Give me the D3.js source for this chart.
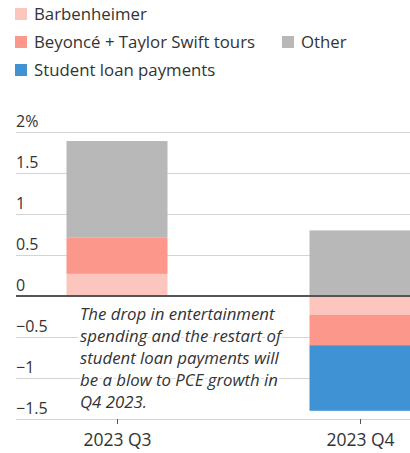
<!DOCTYPE html>
<html lang="en">
<head>
<meta charset="UTF-8">
<title>PCE contributions</title>
<script src="https://cdn.jsdelivr.net/npm/d3@7"></script>
<style>
    body { margin: 0; background: #fff; }
    text { font-family: "Open Sans", Lato, sans-serif; }
</style>
</head>
<body>
<svg id="chart" width="410" height="453"></svg>
<script>
// data
var quarters = ['2023 Q3', '2023 Q4'];
var barbenheimer = [0.27, -0.23];
var tours = [0.44, -0.37];
var other = [1.18, 0.80];
var studentLoans = [0, -0.80];
var yTicks = [2, 1.5, 1, 0.5, 0, -0.5, -1, -1.5];
var seriesNames = ['Barbenheimer', 'Beyoncé + Taylor Swift tours', 'Other', 'Student loan payments'];
var noteLines = ['The drop in entertainment', 'spending and the restart of',
    'student loan payments will', 'be a blow to PCE growth in', 'Q4 2023.'];

var keys = ['barb', 'tours', 'other', 'student'];
var colors = {barb: '#fcc6be', tours: '#fb978b', other: '#b8b8b8', student: '#3f92d4'};

var rows = quarters.map(function (q, i) {
    return {q: q, barb: barbenheimer[i], tours: tours[i], other: other[i], student: studentLoans[i]};
});

var svg = d3.select('#chart');

var x = d3.scalePoint().domain(quarters).range([117, 360]);
var y = d3.scaleLinear().domain([-1.5, 2]).range([419, 132]);
var barW = 101;

// gridlines + labels
var yAxis = svg.append('g')
    .attr('transform', 'translate(16,0)')
    .call(d3.axisRight(y).tickValues(yTicks).tickSize(410)
        .tickFormat(function (d) { return d === 2 ? '2%' : d3.format('')(d); }));
yAxis.select('.domain').remove();
yAxis.selectAll('.tick line').attr('stroke', '#d4d4d4').attr('stroke-width', 1);
yAxis.selectAll('.tick text')
    .attr('x', 0).attr('dy', -6)
    .attr('text-anchor', 'start')
    .attr('fill', '#333').attr('font-size', 16);

// annotation with a white halo over the gridlines
svg.append('text')
    .attr('x', 80).attr('y', 320)
    .attr('font-size', 16.8).attr('font-style', 'italic')
    .attr('fill', '#333')
    .attr('stroke', '#fff').attr('stroke-width', 4).attr('paint-order', 'stroke')
    .selectAll('tspan')
    .data(noteLines)
    .join('tspan')
    .attr('x', 80)
    .attr('dy', function (d, i) { return i === 0 ? 0 : 22; })
    .text(function (d) { return d; });

// stacked bars
var stack = d3.stack().keys(keys).offset(d3.stackOffsetDiverging);
var layers = stack(rows);

svg.append('g').selectAll('g')
    .data(layers)
    .join('g')
    .attr('fill', function (d) { return colors[d.key]; })
    .selectAll('rect')
    .data(function (d) { return d; })
    .join('rect')
    .attr('x', function (d) { return x(d.data.q) - barW / 2; })
    .attr('y', function (d) { return y(Math.max(d[0], d[1])); })
    .attr('width', barW)
    .attr('height', function (d) { return Math.abs(y(d[0]) - y(d[1])); });

// zero line
svg.append('line')
    .attr('x1', 16).attr('x2', 410)
    .attr('y1', y(0)).attr('y2', y(0))
    .attr('stroke', '#555').attr('stroke-width', 2);

// x axis
var xAxis = svg.append('g')
    .attr('transform', 'translate(0,' + y(-1.5) + ')')
    .call(d3.axisBottom(x).tickSize(5).tickPadding(10));
xAxis.select('.domain').remove();
xAxis.selectAll('.tick line').attr('stroke', '#555');
xAxis.selectAll('.tick text').attr('fill', '#333').attr('font-size', 17.5);

// legend
var legendPos = [[15, 14], [15, 42], [282, 42], [15, 70]];
var legend = svg.append('g').selectAll('g')
    .data(keys)
    .join('g')
    .attr('transform', function (d, i) { return 'translate(' + legendPos[i][0] + ',' + legendPos[i][1] + ')'; });
legend.append('rect')
    .attr('x', 0).attr('y', -6).attr('width', 12).attr('height', 12)
    .attr('fill', function (d) { return colors[d]; });
legend.append('text')
    .attr('x', 19).attr('y', 6)
    .attr('font-size', 16.8).attr('fill', '#333')
    .text(function (d, i) { return seriesNames[i]; });
</script>
</body>
</html>
